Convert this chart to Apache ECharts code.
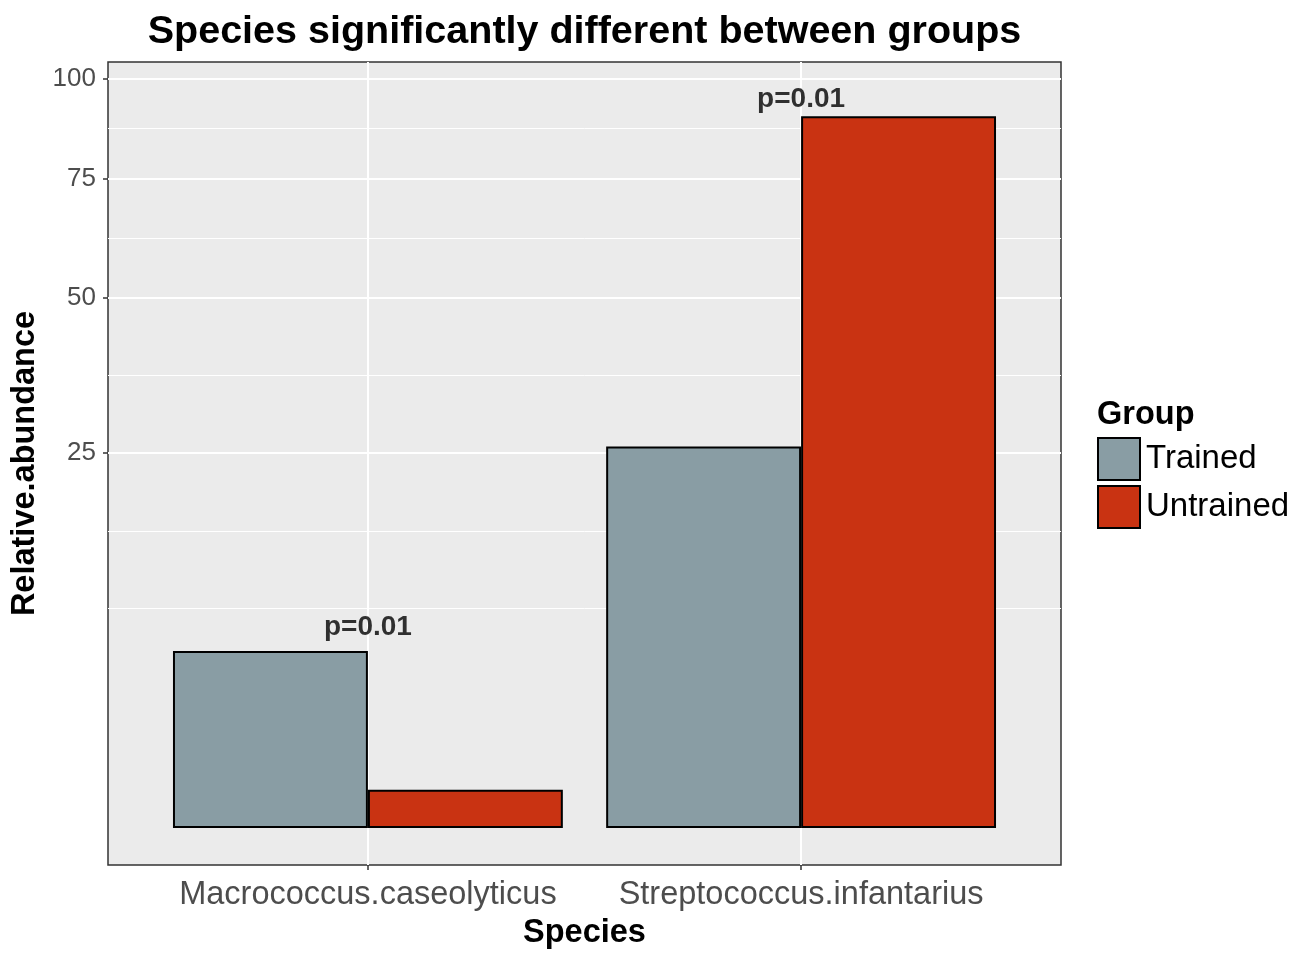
<!DOCTYPE html>
<html>
<head>
<meta charset="utf-8">
<script src="https://cdn.jsdelivr.net/npm/echarts@6/dist/echarts.min.js"></script>
<style>
  html, body { margin: 0; padding: 0; background: #fff; }
  #chart { width: 1298px; height: 953px; }
</style>
</head>
<body>
<div id="chart"></div>
<script>
// data
const species = ['Macrococcus.caseolyticus', 'Streptococcus.infantarius']
const groups = ['Trained', 'Untrained']
const trained = [5.57, 25.9]
const untrained = [0.26, 90.2]
const pLabels = ['p=0.01', 'p=0.01']
const pLabelY = [7.2, 94.5]
const yTicks = [25, 50, 75, 100]

const colors = { Trained: '#899DA4', Untrained: '#C93312' }
const font = 'Liberation Sans, Arial, sans-serif'

// sqrt axis: everything is drawn in sqrt space
const sq = v => Math.sqrt(v)
const majorPos = yTicks.map(sq)
// ggplot regular minor breaks in transformed space
const ext = [majorPos[0] - (majorPos[1] - majorPos[0])].concat(majorPos)
const minorPos = [ext[0]]
for (let i = 0; i < ext.length - 1; i++) minorPos.push((ext[i] + ext[i + 1]) / 2)

const chart = echarts.init(document.getElementById('chart'))

const barStyle = name => ({
  color: colors[name],
  borderColor: '#000',
  borderWidth: 2,
})

const gridLines = majorPos.map(p => ({ yAxis: p, lineStyle: { color: '#fff', width: 2, type: 'solid' } }))
  .concat(minorPos.map(p => ({ yAxis: p, lineStyle: { color: '#fff', width: 1, type: 'solid' } })))
  .concat(species.map((s, i) => ({ xAxis: i + 1, lineStyle: { color: '#fff', width: 2, type: 'solid' } })))

chart.setOption({
  animation: false,
  title: [
    {
      text: 'Species significantly different between groups',
      left: 584.5,
      top: 12,
      padding: 0,
      textAlign: 'center',
      textStyle: { fontFamily: font, fontSize: 39.5, fontWeight: 'bold', color: '#000' },
    },
    {
      text: 'Group',
      left: 1097,
      top: 399,
      padding: 0,
      textStyle: { fontFamily: font, fontSize: 32.5, fontWeight: 'bold', color: '#000' },
    },
  ],
  legend: {
    data: groups,
    orient: 'vertical',
    left: 1097,
    top: 437,
    padding: 0,
    itemWidth: 42,
    itemHeight: 42,
    itemGap: 4,
    icon: 'rect',
    textStyle: { fontFamily: font, fontSize: 33, color: '#000', padding: [4, 0, 0, 1] },
  },
  grid: {
    left: 108,
    top: 62,
    width: 953,
    height: 803,
    outerBoundsMode: 'none',
    show: true,
    backgroundColor: '#EBEBEB',
    borderColor: '#333',
    borderWidth: 1.5,
  },
  xAxis: {
    type: 'value',
    min: 0.4,
    max: 2.6,
    name: 'Species',
    nameLocation: 'middle',
    nameGap: 49,
    nameTextStyle: { fontFamily: font, fontSize: 32.5, fontWeight: 'bold', color: '#000' },
    axisLine: { show: false, onZero: false },
    splitLine: { show: false },
    axisTick: { show: true, customValues: [1, 2], length: 5, lineStyle: { color: '#333', width: 1.5 } },
    axisLabel: {
      customValues: [1, 2],
      margin: 14,
      fontFamily: font,
      fontSize: 32.5,
      color: '#4D4D4D',
      formatter: v => species[Math.round(v) - 1],
    },
  },
  yAxis: {
    type: 'value',
    min: -0.494,
    max: 10.22,
    name: 'Relative.abundance',
    nameLocation: 'middle',
    nameGap: 52,
    nameTextStyle: { fontFamily: font, fontSize: 32.5, fontWeight: 'bold', color: '#000' },
    axisLine: { show: false, onZero: false },
    splitLine: { show: false },
    axisTick: { show: true, customValues: majorPos, length: 5, lineStyle: { color: '#333', width: 1.5 } },
    axisLabel: {
      customValues: majorPos,
      margin: 12,
      fontFamily: font,
      fontSize: 26,
      color: '#4D4D4D',
      formatter: v => String(Math.round(v * v)),
    },
  },
  series: [
    {
      name: 'Trained',
      type: 'bar',
      barWidth: '45%',
      barGap: '0%',
      itemStyle: barStyle('Trained'),
      data: trained.map((v, i) => [i + 1, sq(v)]),
    },
    {
      name: 'Untrained',
      type: 'bar',
      barWidth: '45%',
      barGap: '0%',
      itemStyle: barStyle('Untrained'),
      data: untrained.map((v, i) => [i + 1, sq(v)]),
    },
    {
      name: 'pvalue',
      type: 'scatter',
      symbolSize: 0,
      silent: true,
      z: 5,
      data: pLabelY.map((v, i) => [i + 1, sq(v)]),
      label: {
        show: true,
        position: 'inside',
        formatter: p => pLabels[p.dataIndex],
        fontFamily: font,
        fontSize: 28,
        fontWeight: 'bold',
        color: '#000',
      },
      markLine: {
        silent: true,
        symbol: 'none',
        z: 1,
        label: { show: false },
        animation: false,
        data: gridLines,
      },
    },
  ],
})
</script>
</body>
</html>
